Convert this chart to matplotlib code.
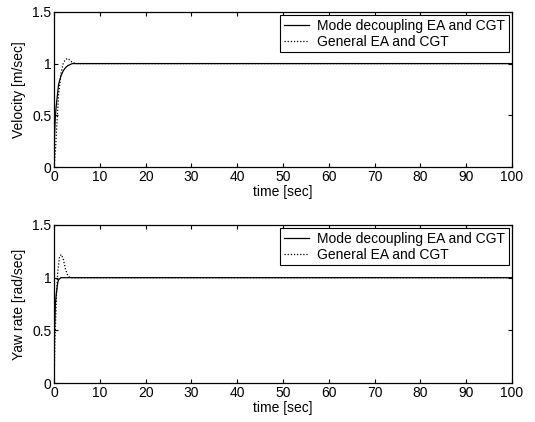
import matplotlib
matplotlib.use("Agg")
import matplotlib.pyplot as plt

# Velocity response
vel_dec_t = [0, 0.1, 0.3, 0.5, 0.8, 1.0, 1.5, 2.0, 2.5, 3.0, 4.0, 5.0, 100]
vel_dec_v = [0, 0.3, 0.5, 0.6, 0.72, 0.8, 0.88, 0.93, 0.96, 0.98, 1.0, 1.0, 1.0]
vel_gen_t = [0, 0.3, 0.6, 1.0, 1.5, 2.0, 2.5, 3.0, 3.5, 4.0, 5.0, 100]
vel_gen_v = [0, 0.15, 0.4, 0.7, 0.9, 1.0, 1.04, 1.05, 1.03, 1.01, 1.0, 1.0]

# Yaw rate response
yaw_dec_t = [0, 0.1, 0.3, 0.5, 0.8, 1.0, 1.5, 100]
yaw_dec_v = [0, 0.5, 0.75, 0.85, 0.95, 0.98, 1.0, 1.0]
yaw_gen_t = [0, 0.2, 0.5, 0.8, 1.2, 1.6, 2.0, 2.5, 3.0, 3.5, 100]
yaw_gen_v = [0, 0.4, 0.8, 1.05, 1.2, 1.22, 1.18, 1.08, 1.02, 1.0, 1.0]

legend_labels = ["Mode decoupling EA and CGT", "General EA and CGT"]
xticks = [0, 10, 20, 30, 40, 50, 60, 70, 80, 90, 100]
yticks = [0, 0.5, 1, 1.5]
ytick_labels = ["0", "0.5", "1", "1.5"]

plt.rcParams['font.family'] = ['Liberation Sans', 'DejaVu Sans']
plt.rcParams['font.size'] = 10

fig = plt.figure(figsize=(5.35, 4.22), dpi=100)
ax1 = fig.add_axes([0.101, 0.604, 0.856, 0.368])
ax2 = fig.add_axes([0.101, 0.092, 0.856, 0.375])

panels = [
    (ax1, vel_dec_t, vel_dec_v, vel_gen_t, vel_gen_v, "Velocity [m/sec]"),
    (ax2, yaw_dec_t, yaw_dec_v, yaw_gen_t, yaw_gen_v, "Yaw rate [rad/sec]"),
]
for ax, t1, v1, t2, v2, ylab in panels:
    ax.plot(t1, v1, color='black', lw=0.9, ls='-', label=legend_labels[0])
    ax.plot(t2, v2, color='black', lw=0.9, ls=(0, (1, 1.5)), label=legend_labels[1])
    ax.set_xlim(0, 100)
    ax.set_ylim(0, 1.5)
    ax.set_xticks(xticks)
    ax.set_yticks(yticks)
    ax.set_yticklabels(ytick_labels)
    ax.tick_params(direction='in', top=True, right=True, length=3, width=0.8, pad=2,
                   labelsize=10)
    for s in ax.spines.values():
        s.set_linewidth(0.9)
    ax.set_xlabel("time [sec]", labelpad=1, fontsize=10)
    ax.set_ylabel(ylab, labelpad=4, fontsize=10)
    leg = ax.legend(loc='upper right', frameon=True, fancybox=False, edgecolor='black',
                    framealpha=1, borderaxespad=0.25, handlelength=1.8, handletextpad=0.6,
                    borderpad=0.25, labelspacing=0.15, fontsize=10)
    leg.get_frame().set_linewidth(0.8)

fig.savefig("out.png", dpi=100)
